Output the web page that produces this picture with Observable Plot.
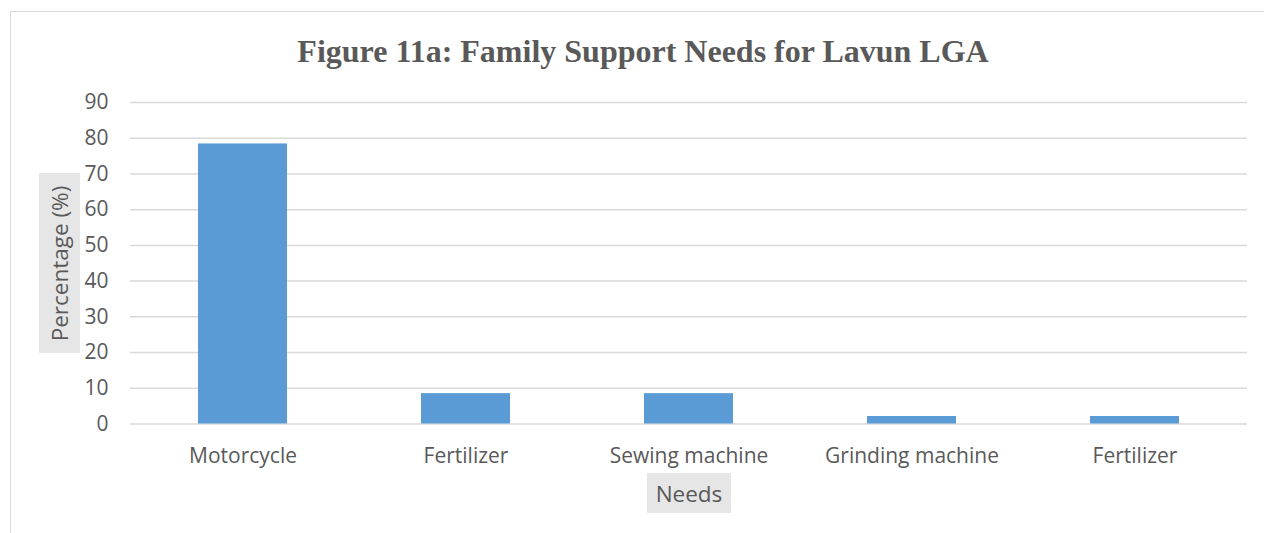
<!DOCTYPE html>
<html>
<head>
<meta charset="utf-8">
<script src="https://cdn.jsdelivr.net/npm/d3@7"></script>
<script src="https://cdn.jsdelivr.net/npm/@observablehq/plot@0.6"></script>
<style>
  html, body { margin: 0; padding: 0; background: #fff; overflow: hidden; }
  #wrap { position: relative; width: 1264px; height: 533px; }
  #frame { position: absolute; left: 10px; top: 11px; width: 1270px; height: 540px; border: 1.5px solid #d9d9d9; box-sizing: border-box; }
  #title { position: absolute; left: 0; width: 1286px; top: 32px; text-align: center; font-family: "Liberation Serif", serif; font-weight: bold; font-size: 32px; color: #595959; line-height: 38px; white-space: nowrap; }
  .axlabel { position: absolute; background: #e6e6e6; color: #595959; font-family: "Open Sans", sans-serif; font-size: 22.5px; display: flex; align-items: center; justify-content: center; white-space: nowrap; }
  #ylab { left: 39px; top: 173px; width: 41px; height: 180px; }
  #ylab span { transform: rotate(-90deg); display: block; }
  #xlab { left: 647px; top: 473px; width: 84px; height: 40px; }
  #chart { position: absolute; left: 0; top: 0; }
</style>
</head>
<body>
<div id="wrap">
  <div id="frame"></div>
  <div id="chart"></div>
  <div id="title">Figure 11a: Family Support Needs for Lavun LGA</div>
  <div class="axlabel" id="ylab"><span>Percentage (%)</span></div>
  <div class="axlabel" id="xlab">Needs</div>
</div>
<script>
const needs = ["Motorcycle", "Fertilizer", "Sewing machine", "Grinding machine", "Fertilizer"];
const percentages = [78.4, 8.5, 8.5, 2.1, 2.1];
const yTicks = [0, 10, 20, 30, 40, 50, 60, 70, 80, 90];

const rows = needs.map((n, i) => ({idx: i, need: n, value: percentages[i]}));

const chart = Plot.plot({
  width: 1264,
  height: 533,
  marginLeft: 130,
  marginRight: 17,
  marginTop: 102,
  marginBottom: 109.5,
  style: {fontFamily: "Open Sans, sans-serif", fontSize: "21px", color: "#595959", background: "transparent"},
  x: {domain: d3.range(needs.length), paddingInner: 0.6, paddingOuter: 0.3, label: null},
  y: {domain: [0, 90], label: null},
  marks: [
    Plot.ruleY(yTicks, {stroke: "#d9d9d9", strokeWidth: 1.5, strokeOpacity: 1}),
    Plot.barY(rows, {x: "idx", y: "value", fill: "#5b9bd5"}),
    Plot.axisY({ticks: yTicks, tickSize: 0, tickPadding: 22, label: null}),
    Plot.axisX({tickSize: 0, tickPadding: 24, tickFormat: i => needs[i], label: null})
  ]
});
document.getElementById("chart").appendChild(chart);
</script>
</body>
</html>
